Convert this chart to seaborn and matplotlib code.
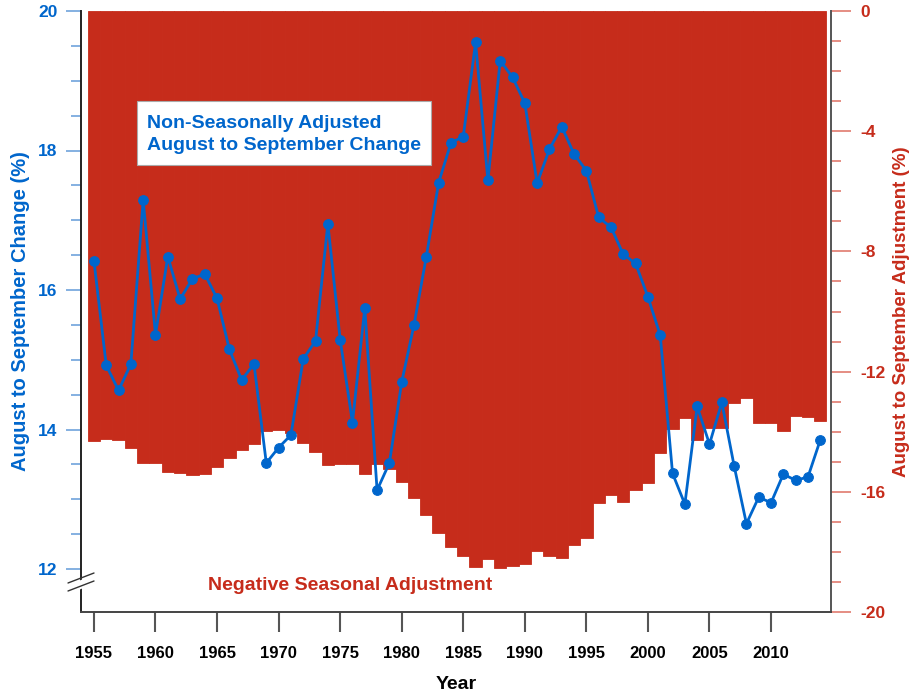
import matplotlib
matplotlib.use("Agg")
import matplotlib.pyplot as plt
from matplotlib.lines import Line2D
from matplotlib.patches import Rectangle, Polygon
from matplotlib.ticker import MultipleLocator, FixedLocator
import seaborn as sns
import pandas as pd

years = list(range(1955, 2015))

nsa_change = [16.42, 14.92, 14.56, 14.94, 17.29, 15.36, 16.48, 15.87, 16.16, 16.23,
              15.88, 15.15, 14.71, 14.94, 13.52, 13.74, 13.92, 15.01, 15.27, 16.95,
              15.29, 14.10, 15.74, 13.13, 13.52, 14.68, 15.50, 16.48, 17.54, 18.11,
              18.20, 19.55, 17.57, 19.29, 19.05, 18.68, 17.53, 18.02, 18.34, 17.95,
              17.71, 17.04, 16.90, 16.51, 16.38, 15.90, 15.35, 13.37, 12.93, 14.33,
              13.79, 14.39, 13.48, 12.65, 13.03, 12.95, 13.36, 13.27, 13.32, 13.85]

seasonal_adj = [-14.31, -14.24, -14.29, -14.53, -15.03, -15.03, -15.34, -15.36, -15.44, -15.40,
                -15.17, -14.87, -14.61, -14.40, -13.99, -13.94, -14.03, -14.39, -14.68, -15.11,
                -15.08, -15.08, -15.41, -15.08, -15.25, -15.67, -16.20, -16.77, -17.38, -17.85,
                -18.14, -18.49, -18.23, -18.52, -18.47, -18.41, -17.97, -18.14, -18.21, -17.77,
                -17.53, -16.36, -16.10, -16.35, -15.94, -15.70, -14.72, -13.92, -13.54, -14.28,
                -13.89, -13.89, -13.03, -12.88, -13.72, -13.70, -13.98, -13.47, -13.51, -13.64]

x_ticks = [1955, 1960, 1965, 1970, 1975, 1980, 1985, 1990, 1995, 2000, 2005, 2010]
left_ticks = [12, 14, 16, 18, 20]
left_minor = [12.5, 13, 13.5, 14.5, 15, 15.5, 16.5, 17, 17.5, 18.5, 19, 19.5]
right_ticks = [0, -4, -8, -12, -16, -20]

df = pd.DataFrame({"year": years, "nsa": nsa_change, "adj": seasonal_adj})

RED = "#C62C1B"
BLUE = "#0066CC"

sns.set_style("white")
plt.rcParams["font.family"] = ["Liberation Sans", "DejaVu Sans"]
plt.rcParams["font.weight"] = "bold"

W, H = 913, 692
fig = plt.figure(figsize=(W / 100, H / 100), dpi=100)
L, R, T, B = 81, 831, 11, 612
ax1 = fig.add_axes([L / W, 1 - B / H, (R - L) / W, (B - T) / H])
ax2 = ax1.twinx()

# bars (right axis)
sns.barplot(data=df, x="year", y="adj", native_scale=True, width=1.0, color=RED,
            saturation=1, errorbar=None, edgecolor=RED, linewidth=0.6, ax=ax2)

# line (left axis)
sns.lineplot(data=df, x="year", y="nsa", color=BLUE, linewidth=2, marker="o",
             markersize=7, markeredgecolor=BLUE, ax=ax1)

ax1.set_zorder(ax2.get_zorder() + 1)
ax1.patch.set_visible(False)

xmin, xmax = 1953.95, 2014.87
ax1.set_xlim(xmin, xmax)
ax2.set_xlim(xmin, xmax)
ax1.set_ylim(20 - (B - T) / 69.75, 20)
ax2.set_ylim(-20, 0)

# spines
for a in (ax1, ax2):
    a.spines["top"].set_visible(False)
ax1.spines["right"].set_visible(False)
ax2.spines["left"].set_visible(False)
ax2.spines["bottom"].set_visible(False)
ax1.spines["left"].set_color("#222222")
ax1.spines["left"].set_linewidth(1.4)
ax1.spines["bottom"].set_color("#444444")
ax1.spines["bottom"].set_linewidth(1.4)
ax2.spines["right"].set_color("#555555")
ax2.spines["right"].set_linewidth(1.4)

# x axis
ax1.set_xticks(x_ticks)
ax1.set_xticklabels([str(v) for v in x_ticks], fontsize=12, fontweight="bold", color="black")
ax1.tick_params(axis="x", direction="out", length=14.4, width=1.5, color="#555555",
                pad=10, bottom=True)
ax2.tick_params(axis="x", bottom=False, labelbottom=False)
ax1.set_xlabel("Year", fontsize=14, fontweight="bold", color="black", labelpad=11)

# left y axis
ax1.set_yticks(left_ticks)
ax1.set_yticklabels([str(v) for v in left_ticks], fontsize=12.5, fontweight="bold", color=BLUE)
ax1.yaxis.set_minor_locator(FixedLocator(left_minor))
ax1.tick_params(axis="y", which="major", direction="out", length=11, width=1.2,
                color="#6FA3DC", pad=6, left=True)
ax1.tick_params(axis="y", which="minor", direction="out", length=7, width=1.2,
                color="#6FA3DC", left=True)
ax1.set_ylabel("August to September Change (%)", fontsize=14.5, fontweight="bold",
               color=BLUE, labelpad=6)

# right y axis
ax2.set_yticks(right_ticks)
ax2.set_yticklabels([str(v) for v in right_ticks], fontsize=12.5, fontweight="bold", color=RED)
ax2.yaxis.set_minor_locator(MultipleLocator(1))
ax2.tick_params(axis="y", which="major", direction="out", length=14.4, width=1.2,
                color="#E07A6E", pad=7, right=True)
ax2.tick_params(axis="y", which="minor", direction="out", length=7, width=1.2,
                color="#E07A6E", right=True)
ax2.set_ylabel("August to September Adjustment (%)", fontsize=13.5, fontweight="bold",
               color=RED, labelpad=5)
ax2.set_xlabel("")

# annotations
ax1.add_patch(Rectangle(((137 - L) / (R - L), 1 - (165 - T) / (B - T)),
                        (431 - 137) / (R - L), (165 - 101) / (B - T),
                        transform=ax1.transAxes, facecolor="white",
                        edgecolor="#AAAAAA", linewidth=0.8, zorder=5))
ax1.text((147 - L) / (R - L), 1 - (124 - T) / (B - T), "Non-Seasonally Adjusted",
         transform=ax1.transAxes, fontsize=14, fontweight="bold", color=BLUE,
         ha="left", va="center", zorder=6)
ax1.text((147 - L) / (R - L), 1 - (146 - T) / (B - T), "August to September Change",
         transform=ax1.transAxes, fontsize=14, fontweight="bold", color=BLUE,
         ha="left", va="center", zorder=6)
ax1.text((208 - L) / (R - L), 1 - (586 - T) / (B - T), "Negative Seasonal Adjustment",
         transform=ax1.transAxes, fontsize=14, fontweight="bold", color=RED,
         ha="left", va="center", zorder=6)

# axis break marks
def fx(x):
    return x / W

def fy(y):
    return 1 - y / H

fig.patches.append(Polygon([(fx(76), fy(582)), (fx(86), fy(578)), (fx(86), fy(587)), (fx(76), fy(591))],
                           closed=True, transform=fig.transFigure, facecolor="white",
                           edgecolor="none", zorder=10))
for y0 in (583, 591):
    fig.add_artist(Line2D([fx(68), fx(94)], [fy(y0), fy(y0 - 10)], transform=fig.transFigure,
                          color="#333333", linewidth=1.0, zorder=11))

fig.savefig("out.png", dpi=100)
